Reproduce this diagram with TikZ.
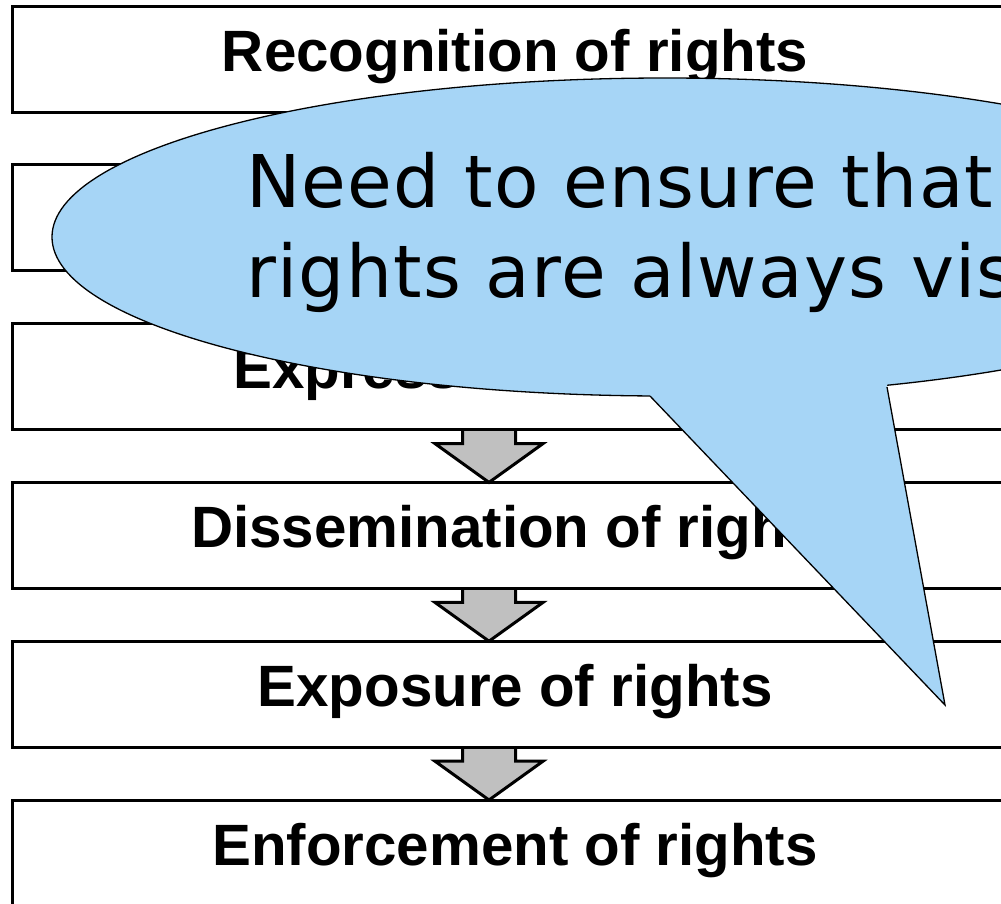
\documentclass[tikz,border=0pt]{standalone}
\usepackage{fontspec}
\setmainfont{Liberation Sans}
\newfontfamily\callfont[LetterSpace=1.8]{DejaVu Sans}
\usetikzlibrary{shapes.geometric,calc}
\pgfdeclarelayer{background}
\pgfsetlayers{background,main}
\definecolor{callblue}{RGB}{166,213,246}
\definecolor{arrgray}{RGB}{192,192,192}
\tikzset{
  stagebox/.style={draw=black, line width=3pt, minimum width=1006pt, minimum height=106pt,
    inner sep=0pt, outer sep=0pt, font=\bfseries\fontsize{58.3}{60}\selectfont,
    text height=40pt, text depth=16pt},
  downarrow/.style={draw=black, fill=arrgray, line width=3pt, line join=miter},
  callout/.style={ellipse, draw=black, fill=callblue, line width=1.3pt,
    minimum width=1226pt, minimum height=318pt, inner sep=0pt, outer sep=0pt},
  calledge/.style={draw=black, line width=1.3pt, line join=miter},
  calltext/.style={font=\callfont\fontsize{72.7}{90}\selectfont, inner sep=0pt, anchor=base west},
}
\begin{document}
\begin{tikzpicture}[x=1pt,y=-1pt]
\useasboundingbox (0,0) rectangle (1001,903);
\clip (0,0) rectangle (1001,903);
% stages
\node[stagebox] (b1) at (515,59) {Recognition of rights};
\node[stagebox] (b2) at (515,217.8) {};
\node[stagebox] (b3) at (515,376.6) {Expression of rights};
\node[stagebox] (b4) at (515,535.4) {Dissemination of rights};
\node[stagebox] (b5) at (515,694.2) {Exposure of rights};
\node[stagebox] (b6) at (515,853) {Enforcement of rights};
% block arrows
\coordinate (ax) at (489,0);
\begin{pgfonlayer}{background}
\foreach \a/\b in {b1/b2,b2/b3,b3/b4,b4/b5,b5/b6}{
  \draw[downarrow] ($(ax |- \a.south)+(-26.5,0)$) -- ++(0,14) -- ++(-27.5,0)
    -- (ax |- \b.north) -- ($(ax |- \a.south)+(54,14)$) -- ++(-27.5,0) -- ++(0,-14);
}
\end{pgfonlayer}
% callout
\node[callout] (call) at (665,237) {};
\coordinate (tl) at (650,396);
\coordinate (tip) at (945,705);
\coordinate (tr) at (887,387);
\fill[callblue] (tl) -- (tip) -- (tr) -- (887,360) -- (650,360) -- cycle;
\draw[calledge] (tl) -- (tip) -- (tr);
\node[calltext] (m1) at (246,207) {Need to ensure that};
\node[calltext] (m2) at (246,297) {rights are always visible};
\end{tikzpicture}
\end{document}
